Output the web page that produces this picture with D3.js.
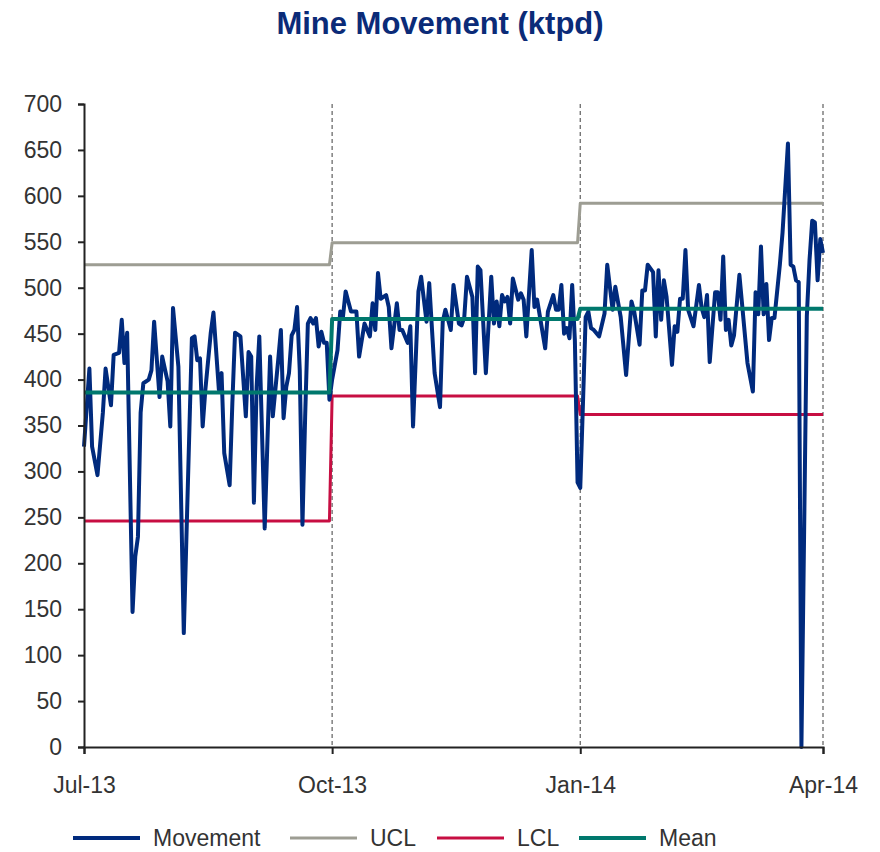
<!DOCTYPE html>
<html>
<head>
<meta charset="utf-8">
<script src="https://cdn.jsdelivr.net/npm/d3@7"></script>
<style>
  body { margin: 0; background: #fff; }
  svg { font-family: "Liberation Sans", Arial, sans-serif; }
</style>
</head>
<body>
<div id="chart"></div>
<script>
// days counted from 1 Jul 2013, values in ktpd
var moveDays = [0, 2, 3, 5, 7, 8, 10, 11, 13, 14, 15, 16, 18, 19, 20, 21, 22, 24, 25, 26, 28, 29, 31, 32, 33,
  35, 37, 40, 41, 42, 43, 44, 45, 47, 48, 50, 51, 52, 54, 55, 56, 58, 60, 61, 62, 63, 64, 65, 67,
  69, 70, 72, 73, 74, 75, 76, 77, 78, 79, 80, 81, 82, 83, 84, 85, 86, 87, 88, 89, 90, 91, 92, 94, 95, 96, 97, 98, 99,
  101, 102, 104, 105, 106, 107, 108, 109, 110, 112, 113, 114, 116, 117, 118, 120, 121, 122, 124, 125, 127, 128, 130, 132, 133,
  134, 136, 137, 139, 140, 141, 142, 144, 145, 146, 147, 149, 151, 152, 153, 154, 155, 156, 157, 158, 159, 161, 162, 163, 164, 166, 167,
  168, 171, 172, 174, 175, 176, 177, 178, 179, 180, 181, 182, 183, 184, 185, 186, 187, 188, 189, 191, 193, 194, 196, 197, 199,
  201, 203, 204, 206, 207, 208, 209, 211, 212, 213, 214, 215, 216, 218, 219, 220, 221, 222, 223, 224, 226, 228, 229, 230, 231, 232,
  234, 235, 236, 237, 238, 239, 240, 241, 243, 246, 248, 249, 250, 251, 252, 253, 254, 255, 256, 258, 259, 261, 262, 263, 264, 265, 266,
  268, 269, 270, 271, 272, 273, 274];
var moveValues = [327, 412, 327, 296, 364, 412, 372, 427, 429, 465, 418, 451, 147, 207, 229, 364, 396, 400, 410, 463, 381, 425, 398, 349, 478,
  414, 124, 445, 447, 421, 423, 349, 389, 451, 473, 389, 407, 320, 285, 374, 451, 447, 360, 430, 425, 266, 392, 447, 238,
  425, 360, 421, 454, 358, 392, 407, 448, 454, 479, 410, 242, 360, 461, 467, 461, 467, 436, 452, 440, 440, 378, 400, 432, 474, 468, 496, 485, 474,
  474, 425, 461, 454, 447, 483, 454, 516, 488, 492, 479, 434, 483, 454, 454, 440, 458, 349, 496, 512, 463, 505, 407, 370, 463,
  476, 454, 503, 461, 459, 468, 512, 490, 407, 523, 519, 407, 512, 461, 485, 458, 492, 485, 490, 461, 510, 487, 494, 487, 447, 541, 479,
  487, 434, 474, 492, 476, 476, 503, 450, 456, 445, 503, 443, 288, 282, 374, 468, 474, 456, 454, 447, 472, 525, 476, 501, 468,
  405, 485, 474, 438, 497, 497, 525, 517, 447, 519, 465, 508, 490, 416, 458, 452, 488, 488, 541, 476, 458, 503, 478, 468, 492, 419,
  495, 495, 465, 534, 454, 465, 437, 448, 514, 418, 387, 495, 471, 545, 471, 504, 443, 467, 467, 525, 560, 657, 525, 523, 508, 506, 0,
  469, 530, 573, 571, 508, 553, 538];

// control limits per quarter
var quarterStart = [0, 92, 184];
var quarterEnd = [91, 183, 274];
var uclValues = [525, 549, 592];
var lclValues = [246, 382, 362];
var meanValues = [386, 466, 477];

var tickDates = ["2013-07-01", "2013-10-01", "2014-01-01", "2014-04-01"];
var yTicks = [0, 50, 100, 150, 200, 250, 300, 350, 400, 450, 500, 550, 600, 650, 700];

var seriesNames = ["Movement", "UCL", "LCL", "Mean"];
var seriesColors = ["#002a7d", "#9d9d93", "#c70e42", "#00786d"];
var seriesWidths = [4, 3, 3, 4];

var width = 880, height = 852;
var plotLeft = 84, plotRight = 823, plotTop = 104, plotBottom = 747;

var parse = d3.timeParse("%Y-%m-%d");
var start = parse("2013-07-01");
var dayToDate = d => d3.timeDay.offset(start, d);

var x = d3.scaleTime()
  .domain([start, parse("2014-04-01")])
  .range([plotLeft, plotRight]);
var y = d3.scaleLinear().domain([0, 700]).range([plotBottom, plotTop]);

var svg = d3.select("#chart").append("svg")
  .attr("width", width)
  .attr("height", height);

svg.append("text")
  .attr("x", 440)
  .attr("y", 34)
  .attr("text-anchor", "middle")
  .attr("font-size", 31)
  .attr("font-weight", "bold")
  .attr("fill", "#0b2b78")
  .text("Mine Movement (ktpd)");

// dashed quarter lines
svg.selectAll(".vgrid")
  .data(tickDates.slice(1))
  .enter().append("line")
  .attr("x1", d => x(parse(d)))
  .attr("x2", d => x(parse(d)))
  .attr("y1", plotTop)
  .attr("y2", plotBottom)
  .attr("stroke", "#6b6b6b")
  .attr("stroke-width", 1.3)
  .attr("stroke-dasharray", "4,3");

// step series built from the quarter arrays
function stepPoints(vals) {
  var pts = [];
  vals.forEach((v, i) => {
    pts.push([quarterStart[i], v]);
    pts.push([quarterEnd[i], v]);
  });
  return pts;
}

var line = d3.line()
  .x(d => x(dayToDate(d[0])))
  .y(d => y(d[1]));

var seriesData = [
  moveDays.map((d, i) => [d, moveValues[i]]),
  stepPoints(uclValues),
  stepPoints(lclValues),
  stepPoints(meanValues)
];

// draw order: UCL, LCL, Movement, Mean on top
[1, 2, 0, 3].forEach(i => {
  svg.append("path")
    .datum(seriesData[i])
    .attr("d", line)
    .attr("fill", "none")
    .attr("stroke", seriesColors[i])
    .attr("stroke-width", seriesWidths[i])
    .attr("stroke-linejoin", "round");
});

// axes
var yAxis = svg.append("g")
  .attr("transform", "translate(" + plotLeft + ",0)")
  .call(d3.axisLeft(y).tickValues(yTicks).tickSize(6).tickPadding(16));
yAxis.select(".domain").attr("stroke", "#222").attr("stroke-width", 2);
yAxis.selectAll(".tick line").attr("stroke", "#222").attr("stroke-width", 2);
yAxis.selectAll("text")
  .attr("font-size", 23)
  .attr("fill", "#333")
  .attr("font-family", "Liberation Sans, Arial, sans-serif");

var xAxis = svg.append("g")
  .attr("transform", "translate(0," + plotBottom + ")")
  .call(d3.axisBottom(x)
    .tickValues(tickDates.map(parse))
    .tickFormat(d3.timeFormat("%b-%y"))
    .tickSize(7)
    .tickPadding(23));
xAxis.select(".domain").attr("stroke", "#222").attr("stroke-width", 2);
xAxis.selectAll(".tick line").attr("stroke", "#222").attr("stroke-width", 2);
xAxis.selectAll("text")
  .attr("font-size", 23)
  .attr("fill", "#333")
  .attr("font-family", "Liberation Sans, Arial, sans-serif");

// legend
var legendX = [73, 290, 437, 579];
var legend = svg.selectAll(".legend")
  .data(seriesNames)
  .enter().append("g")
  .attr("transform", (d, i) => "translate(" + legendX[i] + ",838)");
legend.append("line")
  .attr("x1", 0).attr("x2", 67)
  .attr("stroke", (d, i) => seriesColors[i])
  .attr("stroke-width", (d, i) => seriesWidths[i]);
legend.append("text")
  .attr("x", 80)
  .attr("y", 8)
  .attr("font-size", 23)
  .attr("fill", "#333")
  .text(d => d);
</script>
</body>
</html>
